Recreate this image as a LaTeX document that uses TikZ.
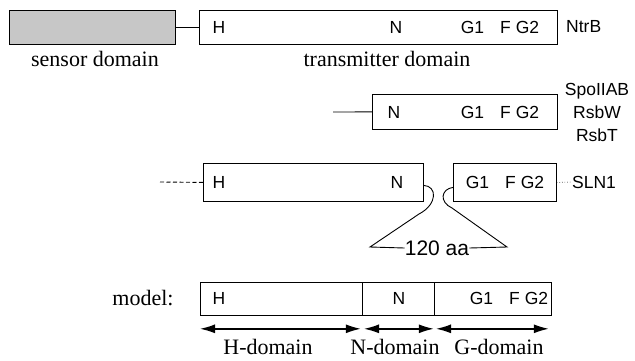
\documentclass[tikz,border=0pt]{standalone}
\usepackage{fontspec}
\setmainfont{Liberation Serif}
\setsansfont{Liberation Sans}
\usetikzlibrary{arrows.meta}
\begin{document}
\begin{tikzpicture}[x=1pt,y=-1pt,
  box/.style={draw, line width=0.8pt, inner sep=0pt, anchor=north west},
  lab/.style={font=\sffamily\fontsize{17.5}{20}\selectfont, inner sep=0pt},
  big/.style={font=\sffamily\fontsize{21}{24}\selectfont, inner sep=0pt},
  ser/.style={font=\rmfamily\fontsize{22}{26}\selectfont, inner sep=0pt, anchor=base},
  conn/.style={line width=0.9pt},
  dbl/.style={line width=1.4pt, {Latex[length=15pt,width=9pt]}-{Latex[length=15pt,width=9pt]}}
]
\useasboundingbox (0,0) rectangle (635,360);
% row 1: NtrB
\node[box, fill=black!22, minimum width=166pt, minimum height=34pt] (sens) at (9,10) {};
\node[box, minimum width=358pt, minimum height=34pt] (tr) at (199,10) {};
\draw[conn] (sens.east) -- (tr.west);
\node[lab] (h1) at (219,27) {H};
\node[lab] (n1) at (396,27) {N};
\node[lab] (g1) at (500,27) {G1\hspace{16pt}F G2};
\node[lab, anchor=west] (ntrb) at (566,27) {NtrB};
\node[ser] (sd) at (95,66) {sensor domain};
\node[ser] (td) at (387,66) {transmitter domain};
% row 2
\node[box, minimum width=185pt, minimum height=35pt] (sp) at (372,94) {};
\coordinate (sp0) at (333,112);
\draw[conn] (sp0) -- (sp.west);
\node[lab] (n2) at (394,112) {N};
\node[lab] (g2) at (500,112) {G1\hspace{16pt}F G2};
\node[lab, anchor=base] (spo) at (597,95) {SpoIIAB};
\node[lab, anchor=base] (rsbw) at (597,118) {RsbW};
\node[lab, anchor=base] (rsbt) at (597,141) {RsbT};
% row 3: SLN1
\node[box, minimum width=220pt, minimum height=38pt] (sl) at (203,163) {};
\node[box, minimum width=103pt, minimum height=38pt] (sr) at (453,163) {};
\coordinate (sl0) at (160,182);
\draw[conn, dash pattern=on 4pt off 2.5pt] (sl0) -- (sl.west);
\node[lab] (h3) at (219,182) {H};
\node[lab] (n3) at (397,182) {N};
\node[lab] (g3) at (505,182) {G1\hspace{16pt}F G2};
\node[lab, anchor=west] (sln) at (572,182) {SLN1};
\draw[line width=0.6pt, dotted] (sr.east) -- (sln.west);
\node[big] (aa) at (437,248) {120 aa};
\coordinate (lb) at (419,214);
\coordinate (lf) at (370,247);
\coordinate (rb) at (452,208);
\coordinate (rf) at (507,247);
\draw[conn] ([yshift=-3pt]sl.east) .. controls (437,186) and (438,204) .. (lb) -- (lf) -- (aa.west);
\draw[conn] ([yshift=-5pt]sr.west) .. controls (441,189) and (439,202) .. (rb) -- (rf) -- (aa.east);
% model
\node[ser] (model) at (143,305) {model:};
\node[box, minimum width=162pt, minimum height=33pt] (mh) at (200,282) {};
\node[box, minimum width=72pt, minimum height=33pt] (mn) at (362,282) {};
\node[box, minimum width=117pt, minimum height=33pt] (mg) at (434,282) {};
\node[lab] (h4) at (219,298) {H};
\node[lab] (n4) at (399,298) {N};
\node[lab] (g4) at (509,298) {G1\hspace{16pt}F G2};
\draw[dbl] ([yshift=-13pt]mh.south west) -- ([xshift=-2pt,yshift=-13pt]mh.south east);
\draw[dbl] ([xshift=2pt,yshift=-13pt]mn.south west) -- ([xshift=-1pt,yshift=-13pt]mn.south east);
\draw[dbl] ([xshift=2pt,yshift=-13pt]mg.south west) -- ([xshift=-3pt,yshift=-13pt]mg.south east);
\node[ser] (hd) at (268,354) {H-domain};
\node[ser] (nd) at (395,354) {N-domain};
\node[ser] (gd) at (499,354) {G-domain};
\end{tikzpicture}
\end{document}
